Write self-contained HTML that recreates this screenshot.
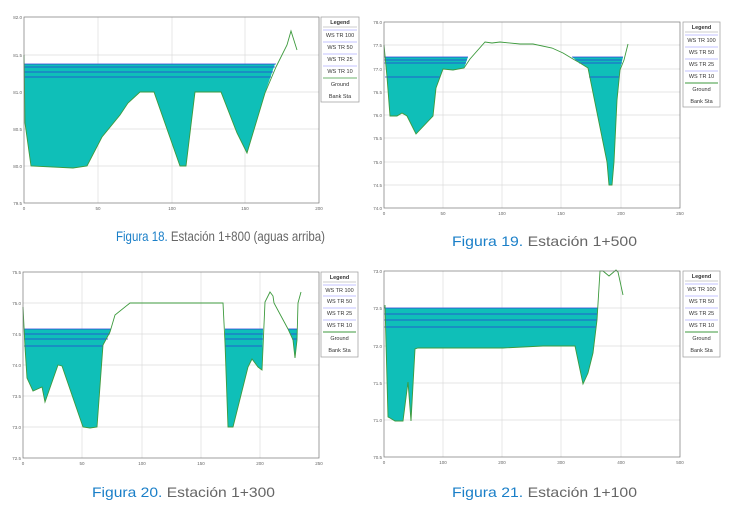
<!DOCTYPE html>
<html><head><meta charset="utf-8"><style>
html,body{margin:0;padding:0;background:#fff;width:737px;height:513px;overflow:hidden}
svg{display:block}
.t{font-family:"Liberation Sans",sans-serif;font-size:4.5px;fill:#666}
.lg{font-family:"Liberation Sans",sans-serif;font-size:5.5px;fill:#333;text-anchor:middle}
.cap{font-family:"Liberation Sans",sans-serif;font-size:14px;fill:#666}
.cb{fill:#1a7fc8}
.g{stroke:#ddd;stroke-width:0.7}
.w{fill:#0fbfb8}
.gr{fill:none;stroke:#3d9a3d;stroke-width:0.9}
.bl{stroke:#2a3fd6;stroke-width:0.8}
.ax{fill:none;stroke:#777;stroke-width:0.7}
</style></head><body>
<svg width="737" height="513" viewBox="0 0 737 513">
<!-- Chart 1 -->
<g>
<line class="g" x1="98" y1="17" x2="98" y2="203"/><line class="g" x1="172" y1="17" x2="172" y2="203"/><line class="g" x1="245" y1="17" x2="245" y2="203"/>
<line class="g" x1="24" y1="166" x2="319" y2="166"/><line class="g" x1="24" y1="129" x2="319" y2="129"/><line class="g" x1="24" y1="92" x2="319" y2="92"/><line class="g" x1="24" y1="55" x2="319" y2="55"/>
<polygon class="w" points="24,64 275,64 265,93 247,153 237,133 221,92 195,92 186,166 180,166 154,92 140,92 128,103 120,115 102,137 87,166 73,168 31,166 25,123 24,64"/>
<line class="bl" x1="24" y1="64" x2="276" y2="64"/><line class="bl" x1="24" y1="67" x2="275" y2="67"/><line class="bl" x1="24" y1="72" x2="273" y2="72"/><line class="bl" x1="24" y1="77" x2="271" y2="77"/>
<polyline class="gr" points="24,55 25,123 31,166 73,168 87,166 102,137 120,115 128,103 140,92 154,92 180,166 186,166 195,92 221,92 237,133 247,153 265,93 276,67 287,45 291,31 297,50"/>
<rect class="ax" x="24" y="17" width="295" height="186"/>
<text class="t" x="22" y="19" text-anchor="end">82.0</text><text class="t" x="22" y="57" text-anchor="end">81.5</text><text class="t" x="22" y="94" text-anchor="end">81.0</text><text class="t" x="22" y="131" text-anchor="end">80.5</text><text class="t" x="22" y="168" text-anchor="end">80.0</text><text class="t" x="22" y="205" text-anchor="end">79.5</text>
<text class="t" x="24" y="210" text-anchor="middle">0</text><text class="t" x="98" y="210" text-anchor="middle">50</text><text class="t" x="172" y="210" text-anchor="middle">100</text><text class="t" x="245" y="210" text-anchor="middle">150</text><text class="t" x="319" y="210" text-anchor="middle">200</text>
<rect x="321" y="17" width="38" height="85" fill="#fff" stroke="#999" stroke-width="0.7"/>
<text class="lg" x="340" y="24" font-weight="bold">Legend</text>
<line x1="323" y1="27" x2="357" y2="27" stroke="#999" stroke-width="0.5"/>
<line x1="323" y1="30" x2="357" y2="30" stroke="#88f" stroke-width="0.6"/><text class="lg" x="340" y="37">WS TR 100</text>
<line x1="323" y1="42" x2="357" y2="42" stroke="#88f" stroke-width="0.6"/><text class="lg" x="340" y="49">WS TR 50</text>
<line x1="323" y1="54" x2="357" y2="54" stroke="#88f" stroke-width="0.6"/><text class="lg" x="340" y="61">WS TR 25</text>
<line x1="323" y1="66" x2="357" y2="66" stroke="#88f" stroke-width="0.6"/><text class="lg" x="340" y="73">WS TR 10</text>
<line x1="323" y1="78" x2="357" y2="78" stroke="#3d9a3d" stroke-width="0.8"/><text class="lg" x="340" y="86">Ground</text>
<text class="lg" x="340" y="98">Bank Sta</text>
<text class="cap" x="116" y="241" textLength="209" lengthAdjust="spacingAndGlyphs"><tspan class="cb">Figura 18.</tspan> Estación 1+800 (aguas arriba)</text>
</g>
<!-- Chart 2 -->
<g>
<line class="g" x1="443" y1="22" x2="443" y2="208"/><line class="g" x1="502" y1="22" x2="502" y2="208"/><line class="g" x1="561" y1="22" x2="561" y2="208"/><line class="g" x1="621" y1="22" x2="621" y2="208"/>
<line class="g" x1="384" y1="45" x2="680" y2="45"/><line class="g" x1="384" y1="69" x2="680" y2="69"/><line class="g" x1="384" y1="92" x2="680" y2="92"/><line class="g" x1="384" y1="115" x2="680" y2="115"/><line class="g" x1="384" y1="138" x2="680" y2="138"/><line class="g" x1="384" y1="162" x2="680" y2="162"/><line class="g" x1="384" y1="185" x2="680" y2="185"/>
<polygon class="w" points="384,57 468,57 464,68 453,70 443,69 436,88 433,116 416,134 407,116 402,113 397,116 390,116 387,77 385,57"/>
<polygon class="w" points="572,57 623,57 620,70 617,100 614,162 612,185 609,185 607,162 588,68 580,63"/>
<line class="bl" x1="384" y1="57" x2="468" y2="57"/><line class="bl" x1="384" y1="60" x2="467" y2="60"/><line class="bl" x1="384" y1="63" x2="466" y2="63"/><line class="bl" x1="385" y1="77" x2="440" y2="77"/>
<line class="bl" x1="572" y1="57" x2="623" y2="57"/><line class="bl" x1="575" y1="60" x2="622" y2="60"/><line class="bl" x1="579" y1="63" x2="622" y2="63"/><line class="bl" x1="589" y1="77" x2="619" y2="77"/>
<polyline class="gr" points="384,45 387,77 390,116 397,116 402,113 407,116 416,134 433,116 436,88 443,69 453,70 464,68 470,59 485,42 492,43 500,42 520,44 533,44 552,48 563,53 573,59 580,63 588,68 607,162 609,185 612,185 614,162 617,100 620,70 624,60 628,44"/>
<rect class="ax" x="384" y="22" width="296" height="186"/>
<text class="t" x="382" y="24" text-anchor="end">78.0</text><text class="t" x="382" y="47" text-anchor="end">77.5</text><text class="t" x="382" y="71" text-anchor="end">77.0</text><text class="t" x="382" y="94" text-anchor="end">76.5</text><text class="t" x="382" y="117" text-anchor="end">76.0</text><text class="t" x="382" y="140" text-anchor="end">75.5</text><text class="t" x="382" y="164" text-anchor="end">75.0</text><text class="t" x="382" y="187" text-anchor="end">74.5</text><text class="t" x="382" y="210" text-anchor="end">74.0</text>
<text class="t" x="384" y="215" text-anchor="middle">0</text><text class="t" x="443" y="215" text-anchor="middle">50</text><text class="t" x="502" y="215" text-anchor="middle">100</text><text class="t" x="561" y="215" text-anchor="middle">150</text><text class="t" x="621" y="215" text-anchor="middle">200</text><text class="t" x="680" y="215" text-anchor="middle">250</text>
<rect x="683" y="22" width="37" height="85" fill="#fff" stroke="#999" stroke-width="0.7"/>
<text class="lg" x="701.5" y="29" font-weight="bold">Legend</text>
<line x1="685" y1="32" x2="718" y2="32" stroke="#999" stroke-width="0.5"/>
<line x1="685" y1="35" x2="718" y2="35" stroke="#88f" stroke-width="0.6"/><text class="lg" x="701.5" y="42">WS TR 100</text>
<line x1="685" y1="47" x2="718" y2="47" stroke="#88f" stroke-width="0.6"/><text class="lg" x="701.5" y="54">WS TR 50</text>
<line x1="685" y1="59" x2="718" y2="59" stroke="#88f" stroke-width="0.6"/><text class="lg" x="701.5" y="66">WS TR 25</text>
<line x1="685" y1="71" x2="718" y2="71" stroke="#88f" stroke-width="0.6"/><text class="lg" x="701.5" y="78">WS TR 10</text>
<line x1="685" y1="83" x2="718" y2="83" stroke="#3d9a3d" stroke-width="1"/><text class="lg" x="701.5" y="91">Ground</text>
<text class="lg" x="701.5" y="103">Bank Sta</text>
<text class="cap" x="452" y="246" textLength="185" lengthAdjust="spacingAndGlyphs"><tspan class="cb">Figura 19.</tspan> Estación 1+500</text>
</g>
<!-- Chart 3 -->
<g>
<line class="g" x1="82" y1="272" x2="82" y2="458"/><line class="g" x1="142" y1="272" x2="142" y2="458"/><line class="g" x1="201" y1="272" x2="201" y2="458"/><line class="g" x1="260" y1="272" x2="260" y2="458"/>
<line class="g" x1="23" y1="303" x2="319" y2="303"/><line class="g" x1="23" y1="334" x2="319" y2="334"/><line class="g" x1="23" y1="365" x2="319" y2="365"/><line class="g" x1="23" y1="396" x2="319" y2="396"/><line class="g" x1="23" y1="427" x2="319" y2="427"/>
<polygon class="w" points="24,329 111,329 110,332 103,345 97,427 90,428 83,427 62,366 58,365 45,402 42,387 33,391 27,378 25,347"/>
<polygon class="w" points="225,329 263,329 262,370 258,367 252,359 248,367 233,427 228,427 225,343"/>
<polygon class="w" points="288,329 297,329 297,340 295,358 293,340"/>
<line class="bl" x1="24" y1="329" x2="111" y2="329"/><line class="bl" x1="24" y1="334" x2="110" y2="334"/><line class="bl" x1="24" y1="339" x2="108" y2="339"/><line class="bl" x1="24" y1="346" x2="103" y2="346"/>
<line class="bl" x1="225" y1="329" x2="263" y2="329"/><line class="bl" x1="225" y1="334" x2="263" y2="334"/><line class="bl" x1="225" y1="339" x2="263" y2="339"/><line class="bl" x1="225" y1="346" x2="262" y2="346"/>
<line class="bl" x1="288" y1="329" x2="297" y2="329"/><line class="bl" x1="290" y1="334" x2="297" y2="334"/><line class="bl" x1="292" y1="339" x2="297" y2="339"/>
<polyline class="gr" points="23,307 25,347 27,378 33,391 42,387 45,402 58,365 62,366 83,427 90,428 97,427 103,345 110,332 115,315 130,303 223,303 225,343 228,427 233,427 248,367 252,359 258,367 262,370 265,302 270,292 273,296 274,303 288,329 293,340 295,358 297,340 298,303 301,292"/>
<rect class="ax" x="23" y="272" width="296" height="186"/>
<text class="t" x="21" y="274" text-anchor="end">75.5</text><text class="t" x="21" y="305" text-anchor="end">75.0</text><text class="t" x="21" y="336" text-anchor="end">74.5</text><text class="t" x="21" y="367" text-anchor="end">74.0</text><text class="t" x="21" y="398" text-anchor="end">73.5</text><text class="t" x="21" y="429" text-anchor="end">73.0</text><text class="t" x="21" y="460" text-anchor="end">72.5</text>
<text class="t" x="23" y="465" text-anchor="middle">0</text><text class="t" x="82" y="465" text-anchor="middle">50</text><text class="t" x="142" y="465" text-anchor="middle">100</text><text class="t" x="201" y="465" text-anchor="middle">150</text><text class="t" x="260" y="465" text-anchor="middle">200</text><text class="t" x="319" y="465" text-anchor="middle">250</text>
<rect x="321" y="272" width="37" height="85" fill="#fff" stroke="#999" stroke-width="0.7"/>
<text class="lg" x="339.5" y="279" font-weight="bold">Legend</text>
<line x1="323" y1="282" x2="356" y2="282" stroke="#999" stroke-width="0.5"/>
<line x1="323" y1="285" x2="356" y2="285" stroke="#88f" stroke-width="0.6"/><text class="lg" x="339.5" y="292">WS TR 100</text>
<line x1="323" y1="296" x2="356" y2="296" stroke="#88f" stroke-width="0.6"/><text class="lg" x="339.5" y="303">WS TR 50</text>
<line x1="323" y1="308" x2="356" y2="308" stroke="#88f" stroke-width="0.6"/><text class="lg" x="339.5" y="315">WS TR 25</text>
<line x1="323" y1="320" x2="356" y2="320" stroke="#88f" stroke-width="0.6"/><text class="lg" x="339.5" y="327">WS TR 10</text>
<line x1="323" y1="332" x2="356" y2="332" stroke="#3d9a3d" stroke-width="1"/><text class="lg" x="339.5" y="340">Ground</text>
<text class="lg" x="339.5" y="352">Bank Sta</text>
<text class="cap" x="92" y="497" textLength="183" lengthAdjust="spacingAndGlyphs"><tspan class="cb">Figura 20.</tspan> Estación 1+300</text>
</g>
<!-- Chart 4 -->
<g>
<line class="g" x1="443" y1="271" x2="443" y2="457"/><line class="g" x1="502" y1="271" x2="502" y2="457"/><line class="g" x1="561" y1="271" x2="561" y2="457"/><line class="g" x1="621" y1="271" x2="621" y2="457"/>
<line class="g" x1="384" y1="308" x2="680" y2="308"/><line class="g" x1="384" y1="346" x2="680" y2="346"/><line class="g" x1="384" y1="383" x2="680" y2="383"/><line class="g" x1="384" y1="420" x2="680" y2="420"/>
<polygon class="w" points="384,308 598,308 597,320 593,353 588,373 583,384 575,346 543,346 503,348 418,348 415,349 411,421 408,382 403,421 395,421 390,418 388,417 385,305"/>
<line class="bl" x1="384" y1="308" x2="598" y2="308"/><line class="bl" x1="384" y1="314" x2="597" y2="314"/><line class="bl" x1="384" y1="320" x2="597" y2="320"/><line class="bl" x1="384" y1="327" x2="596" y2="327"/>
<polyline class="gr" points="385,305 388,417 390,418 395,421 403,421 408,382 411,421 415,349 418,348 503,348 543,346 575,346 583,384 588,373 593,353 597,320 600,271 603,271 609,276 616,270 618,272 623,295"/>
<rect class="ax" x="384" y="271" width="296" height="186"/>
<text class="t" x="382" y="273" text-anchor="end">73.0</text><text class="t" x="382" y="310" text-anchor="end">72.5</text><text class="t" x="382" y="348" text-anchor="end">72.0</text><text class="t" x="382" y="385" text-anchor="end">71.5</text><text class="t" x="382" y="422" text-anchor="end">71.0</text><text class="t" x="382" y="459" text-anchor="end">70.5</text>
<text class="t" x="384" y="464" text-anchor="middle">0</text><text class="t" x="443" y="464" text-anchor="middle">100</text><text class="t" x="502" y="464" text-anchor="middle">200</text><text class="t" x="561" y="464" text-anchor="middle">300</text><text class="t" x="621" y="464" text-anchor="middle">400</text><text class="t" x="680" y="464" text-anchor="middle">500</text>
<rect x="683" y="271" width="37" height="86" fill="#fff" stroke="#999" stroke-width="0.7"/>
<text class="lg" x="701.5" y="278" font-weight="bold">Legend</text>
<line x1="685" y1="281" x2="718" y2="281" stroke="#999" stroke-width="0.5"/>
<line x1="685" y1="284" x2="718" y2="284" stroke="#88f" stroke-width="0.6"/><text class="lg" x="701.5" y="291">WS TR 100</text>
<line x1="685" y1="296" x2="718" y2="296" stroke="#88f" stroke-width="0.6"/><text class="lg" x="701.5" y="303">WS TR 50</text>
<line x1="685" y1="308" x2="718" y2="308" stroke="#88f" stroke-width="0.6"/><text class="lg" x="701.5" y="315">WS TR 25</text>
<line x1="685" y1="320" x2="718" y2="320" stroke="#88f" stroke-width="0.6"/><text class="lg" x="701.5" y="327">WS TR 10</text>
<line x1="685" y1="332" x2="718" y2="332" stroke="#3d9a3d" stroke-width="1"/><text class="lg" x="701.5" y="340">Ground</text>
<text class="lg" x="701.5" y="352">Bank Sta</text>
<text class="cap" x="452" y="497" textLength="185" lengthAdjust="spacingAndGlyphs"><tspan class="cb">Figura 21.</tspan> Estación 1+100</text>
</g>
</svg>
</body></html>
